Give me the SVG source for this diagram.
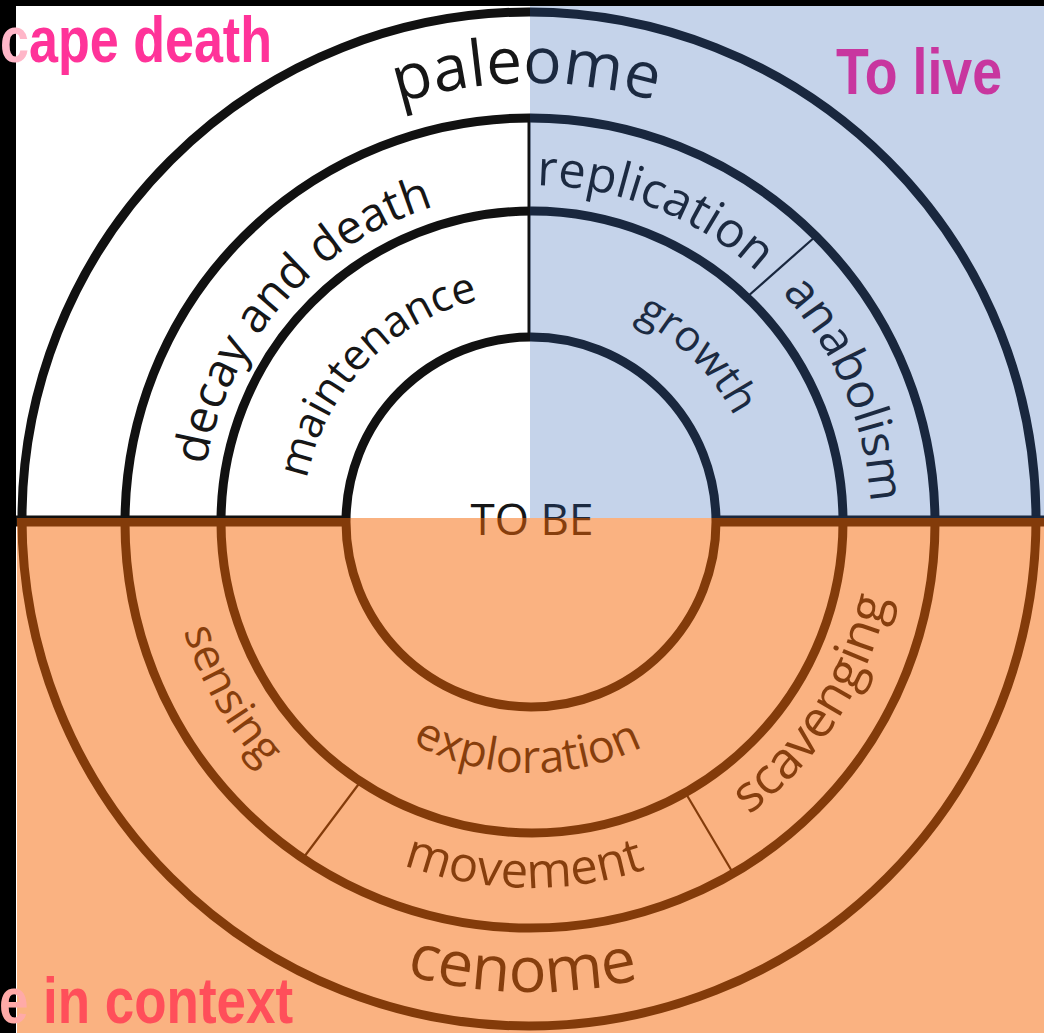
<svg xmlns="http://www.w3.org/2000/svg" width="1044" height="1033" viewBox="0 0 1044 1033">
<style>
.ring{fill:none;stroke:#111;stroke-width:9}
.conn{stroke:#111;fill:none}
.lbl{font-family:"Open Sans","Noto Sans","DejaVu Sans",sans-serif;fill:#161616}
.head{font-family:"Liberation Sans",Arial,sans-serif;font-weight:bold}
</style>
<defs>
<path id="pPaleome" d="M 92 522 A 439 439 0 0 1 970 522"/>
<path id="pDecay" d="M 201 522 A 330 330 0 0 1 861 522"/>
<path id="pMaint" d="M 303 522 A 228 228 0 0 1 759 522"/>
<path id="pRepl" d="M 194 522 A 337 337 0 0 1 868 522"/>
<path id="pAnab" d="M 191 522 A 340 340 0 0 1 871 522"/>
<path id="pGrowth" d="M 302 522 A 229 229 0 0 1 760 522"/>
<path id="pExpl" d="M 280 522 A 251 251 0 0 0 782 522"/>
<path id="pMove" d="M 165 522 A 366 366 0 0 0 897 522"/>
<path id="pSens" d="M 167 522 A 364 364 0 0 0 895 522"/>
<path id="pScav" d="M 166 522 A 365 365 0 0 0 896 522"/>
<path id="pCenome" d="M 61 522 A 470 470 0 0 0 1001 522"/>
</defs>
<rect x="0" y="0" width="1044" height="1033" fill="#ffffff"/>
<g id="rings">
<circle class="ring" cx="529" cy="519" r="507"/>
<circle class="ring" cx="530" cy="523" r="405"/>
<circle class="ring" cx="532" cy="522" r="311"/>
<circle class="ring" cx="531" cy="522" r="185"/>
</g>
<g id="connectors">
<line class="conn" x1="0" y1="521" x2="347" y2="521" stroke-width="11"/>
<line class="conn" x1="715" y1="521" x2="1044" y2="521" stroke-width="11"/>
<line class="conn" x1="529" y1="117" x2="529" y2="338" stroke-width="3"/>
<line class="conn" x1="747" y1="297" x2="816" y2="236" stroke-width="2.2"/>
<line class="conn" x1="361" y1="781" x2="304" y2="857" stroke-width="2.2"/>
<line class="conn" x1="685" y1="792" x2="733" y2="873" stroke-width="2.2"/>
</g>
<g id="node-paleome"><text class="lbl" font-size="64"><textPath href="#pPaleome" startOffset="49.67%" text-anchor="middle">paleome</textPath></text></g>
<g id="node-decay"><text class="lbl" font-size="47"><textPath href="#pDecay" startOffset="23.0%" text-anchor="middle">decay and death</textPath></text></g>
<g id="node-maintenance"><text class="lbl" font-size="43"><textPath href="#pMaint" startOffset="24.3%" text-anchor="middle">maintenance</textPath></text></g>
<g id="node-replication"><text class="lbl" font-size="49"><textPath href="#pRepl" startOffset="62.0%" text-anchor="middle">replication</textPath></text></g>
<g id="node-anabolism"><text class="lbl" font-size="48"><textPath href="#pAnab" startOffset="87.3%" text-anchor="middle">anabolism</textPath></text></g>
<g id="node-growth"><text class="lbl" font-size="43"><textPath href="#pGrowth" startOffset="74.9%" text-anchor="middle">growth</textPath></text></g>
<g id="node-tobe"><text class="lbl" font-size="44" x="532" y="535" text-anchor="middle">TO BE</text></g>
<g id="node-exploration"><text class="lbl" font-size="45"><textPath href="#pExpl" startOffset="49.5%" text-anchor="middle">exploration</textPath></text></g>
<g id="node-movement"><text class="lbl" font-size="49"><textPath href="#pMove" startOffset="49.4%" text-anchor="middle">movement</textPath></text></g>
<g id="node-sensing"><text class="lbl" font-size="45"><textPath href="#pSens" startOffset="16.65%" text-anchor="middle">sensing</textPath></text></g>
<g id="node-scavenging"><text class="lbl" font-size="51"><textPath href="#pScav" startOffset="81.8%" text-anchor="middle">scavenging</textPath></text></g>
<g id="node-cenome"><text class="lbl" font-size="63"><textPath href="#pCenome" startOffset="49.4%" text-anchor="middle">cenome</textPath></text></g>
<g id="overlays">
<rect x="530" y="0" width="514" height="518" fill="rgb(46,96,180)" fill-opacity="0.28"/>
<rect x="17" y="518" width="1027" height="515" fill="rgb(246,102,4)" fill-opacity="0.5"/>
</g>
<g id="frame">
<rect x="0" y="0" width="16" height="1033" fill="#000"/>
<rect x="0" y="0" width="1044" height="6" fill="#000"/>
</g>
<g id="headings">
<text class="head" font-size="64" x="0" y="62" textLength="272" lengthAdjust="spacingAndGlyphs"><tspan fill="#ffb6c8">c</tspan><tspan fill="#ff3399">ape death</tspan></text>
<text class="head" font-size="64" x="836" y="94" textLength="166" lengthAdjust="spacingAndGlyphs" fill="#c8369f">To live</text>
<text class="head" font-size="64" x="-1" y="1023" textLength="294" lengthAdjust="spacingAndGlyphs"><tspan fill="#ffaaa8">e</tspan><tspan fill="#ff4f5a"> in context</tspan></text>
</g>
</svg>
